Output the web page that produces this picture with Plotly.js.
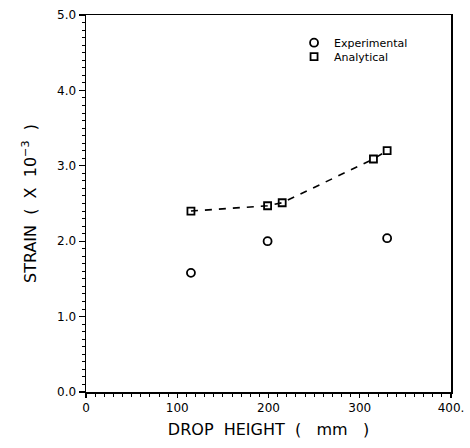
<!DOCTYPE html>
<html>
<head>
<meta charset="utf-8">
<script src="https://cdn.plot.ly/plotly-3.0.1.min.js"></script>
<style>html,body{margin:0;padding:0;background:#fff;}#chart{width:470px;height:448px;}</style>
</head>
<body>
<div id="chart"></div>
<script>
const expX = [115, 199, 330];
const expY = [1.58, 2.00, 2.04];
const anaX = [115, 199, 215, 315, 330];
const anaY = [2.40, 2.47, 2.51, 3.09, 3.20];
const xTickVals = [0, 100, 200, 300, 400];
const xTickText = ['0', '100', '200', '300', '400.'];
const yTickVals = [0, 1, 2, 3, 4, 5];
const yTickText = ['0.0', '1.0', '2.0', '3.0', '4.0', '5.0'];

const fontFam = 'DejaVu Sans, Arial, sans-serif';
const traces = [
  {x: anaX, y: anaY, mode: 'lines', showlegend: false,
   line: {color: '#000', width: 1.6, dash: '7px,7px'}, hoverinfo: 'skip'},
  {x: expX, y: expY, mode: 'markers', name: 'Experimental', legend: 'legend',
   marker: {symbol: 'circle-open', size: 8, color: '#000', line: {width: 1.8, color: '#000'}}},
  {x: anaX, y: anaY, mode: 'markers', name: 'Analytical', legend: 'legend2',
   marker: {symbol: 'square-open', size: 7, color: '#000', line: {width: 1.8, color: '#000'}}}
];
const legFont = {family: fontFam, size: 11, color: '#000'};
const layout = {
  width: 470, height: 448,
  margin: {l: 86, r: 19, t: 15, b: 56},
  paper_bgcolor: '#fff', plot_bgcolor: '#fff',
  showlegend: true,
  legend: {x: 0.57, y: 0.965, xanchor: 'left', yanchor: 'top', bgcolor: 'rgba(0,0,0,0)',
           font: legFont, itemwidth: 30},
  legend2: {x: 0.57, y: 0.928, xanchor: 'left', yanchor: 'top', bgcolor: 'rgba(0,0,0,0)',
           font: legFont, itemwidth: 30},
  xaxis: {
    range: [0, 400], showline: true, linecolor: '#000', linewidth: 1.5, mirror: true,
    showgrid: false, zeroline: false,
    tickvals: xTickVals, ticktext: xTickText,
    ticks: 'outside', ticklen: 4, tickwidth: 1.2, tickcolor: '#000',
    minor: {dtick: 10, ticks: 'outside', ticklen: 3, tickwidth: 1, tickcolor: '#000', showgrid: false},
    tickfont: {family: fontFam, size: 12, color: '#000'},
    title: {text: 'DROP  HEIGHT  (   mm   )', font: {family: fontFam, size: 16, color: '#000'}, standoff: 10}
  },
  yaxis: {
    range: [0, 5], showline: true, linecolor: '#000', linewidth: 1.5, mirror: true,
    showgrid: false, zeroline: false,
    tickvals: yTickVals, ticktext: yTickText,
    ticks: 'outside', ticklen: 6, tickwidth: 1.2, tickcolor: '#000',
    minor: {dtick: 0.1, ticks: 'outside', ticklen: 3, tickwidth: 1, tickcolor: '#000', showgrid: false},
    tickfont: {family: fontFam, size: 12, color: '#000'},
    title: {text: 'STRAIN  (  X  10<sup>−3</sup>  )', font: {family: fontFam, size: 16, color: '#000'}, standoff: 16}
  }
};
Plotly.newPlot('chart', traces, layout, {displayModeBar: false, staticPlot: true});
</script>
</body>
</html>
